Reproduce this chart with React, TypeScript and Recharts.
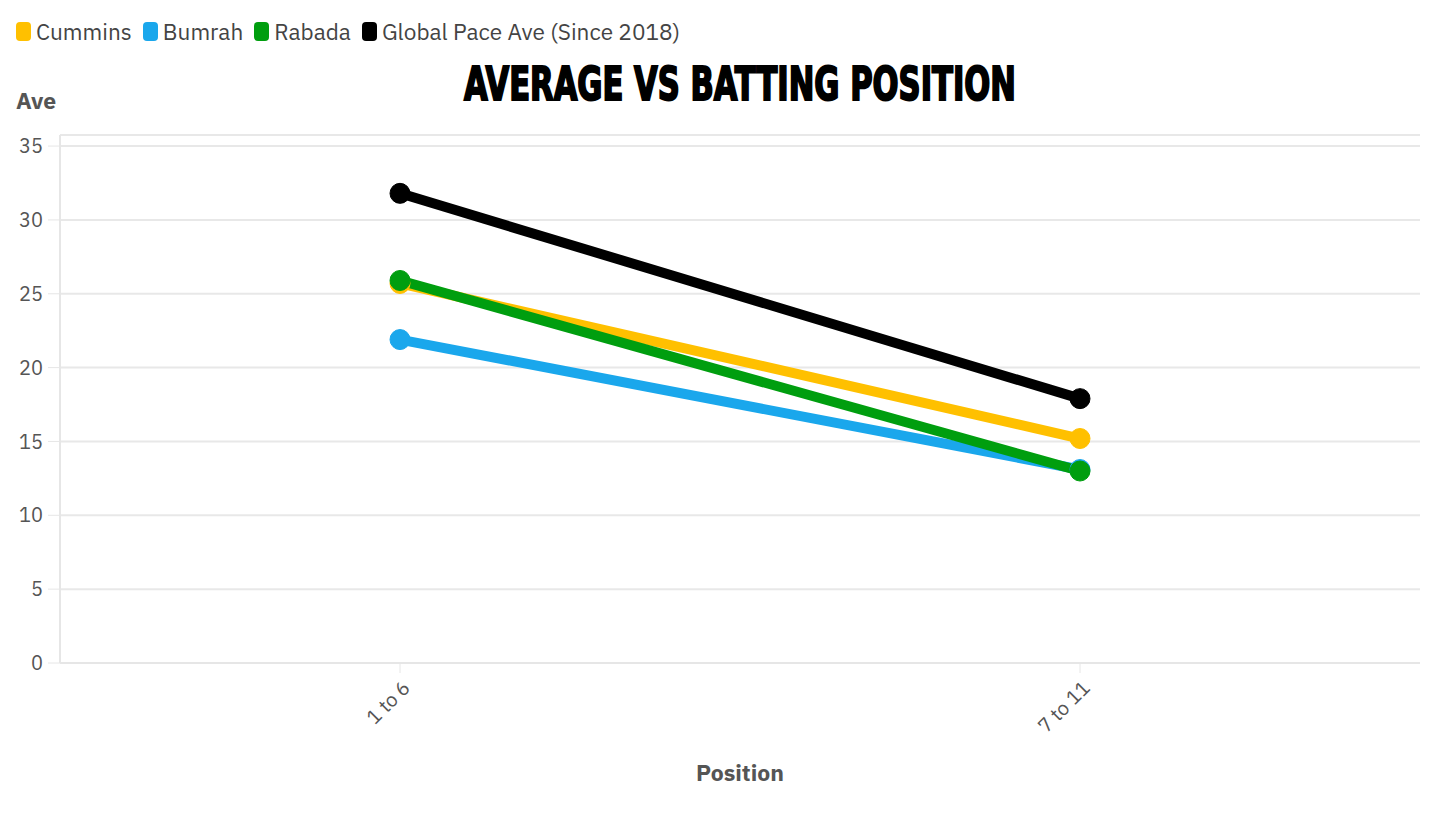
import React from "react";
import { LineChart, Line, XAxis, YAxis, CartesianGrid } from "recharts";

const positions = ["1 to 6", "7 to 11"];
const cummins = [25.7, 15.2];
const bumrah = [21.9, 13.1];
const rabada = [25.9, 13.0];
const globalPace = [31.8, 17.9];
const yTicks = [0, 5, 10, 15, 20, 25, 30, 35];

const seriesList = [
  { key: "cummins", name: "Cummins", color: "#FFC000", values: cummins },
  { key: "bumrah", name: "Bumrah", color: "#1AA7EC", values: bumrah },
  { key: "rabada", name: "Rabada", color: "#009E0F", values: rabada },
  { key: "globalPace", name: "Global Pace Ave (Since 2018)", color: "#000000", values: globalPace },
];

const data = positions.map((p, i) => {
  const row: Record<string, any> = { position: p };
  seriesList.forEach((s) => (row[s.key] = s.values[i]));
  return row;
});

const FONT = "'IBM Plex Sans', Roboto, 'Noto Sans', sans-serif";

const XTick = (props: any) => {
  const { x, y, payload } = props;
  return (
    <g transform={`translate(${x},${y})`}>
      <text x={0} y={0} dx={-2} dy={18} textAnchor="end" transform="rotate(-45)" fill="#555" fontSize={20} fontFamily={FONT}>
        {payload.value}
      </text>
    </g>
  );
};

export default function App() {
  return (
    <div style={{ position: "absolute", left: 0, top: 0, width: 1456, height: 819, background: "#fff" }}>
      <div style={{ position: "absolute", left: 16, top: 17, display: "flex", alignItems: "center", fontFamily: FONT, fontSize: 22.6, color: "#444", zIndex: 2 }}>
        {seriesList.map((s) => (
          <div key={s.key} style={{ display: "flex", alignItems: "center", marginRight: 11 }}>
            <span style={{ display: "inline-block", width: 15, height: 19, borderRadius: 4, background: s.color, marginRight: 5 }} />
            <span>{s.name}</span>
          </div>
        ))}
      </div>
      <LineChart width={1456} height={819} data={data} margin={{ top: 135, right: 36, bottom: 76, left: 0 }}>
        <CartesianGrid vertical={false} stroke="#e8e8e8" strokeWidth={2} />
        <XAxis
          dataKey="position"
          scale="band"
          height={80}
          tick={<XTick />}
          tickSize={10}
          axisLine={{ stroke: "#e6e6e6", strokeWidth: 2 }}
          tickLine={{ stroke: "#e6e6e6" }}
          interval={0}
        />
        <YAxis
          width={60}
          domain={[0, 35.75]}
          ticks={yTicks}
          tickSize={12}
          tickMargin={5}
          axisLine={{ stroke: "#e6e6e6", strokeWidth: 2 }}
          tickLine={{ stroke: "#e6e6e6" }}
          tick={{ fill: "#555", fontSize: 20, fontFamily: FONT }}
        />
        {seriesList.map((s) => (
          <Line
            key={s.key}
            dataKey={s.key}
            name={s.name}
            stroke={s.color}
            strokeWidth={10}
            dot={{ r: 10, fill: s.color, stroke: s.color, strokeWidth: 1 }}
            activeDot={false}
            isAnimationActive={false}
          />
        ))}
        <g transform="translate(740,100) scale(0.74,1)">
          <text x={0} y={0} textAnchor="middle" fontFamily="'DejaVu Sans Condensed', 'Liberation Sans Narrow', sans-serif" fontWeight={900} fontSize={46} fill="#000" stroke="#000" strokeWidth={2}>
            AVERAGE VS BATTING POSITION
          </text>
        </g>
        <text x={16} y={109} fontFamily={FONT} fontWeight={700} fontSize={23} fill="#555">Ave</text>
        <text x={740} y={781} textAnchor="middle" fontFamily={FONT} fontWeight={700} fontSize={23} fill="#555">Position</text>
      </LineChart>
    </div>
  );
}
